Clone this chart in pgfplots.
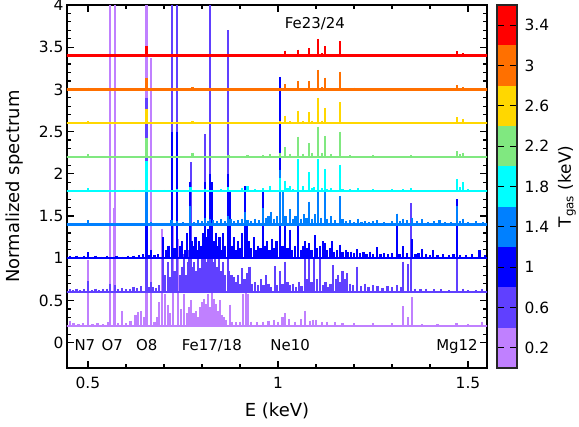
\documentclass[border=0pt]{standalone}
\usepackage{fontspec}
\setmainfont{DejaVu Sans}
\usepackage{pgfplots}
\usepackage{pgfplotstable}
\pgfplotsset{compat=1.18}
\definecolor{cA}{RGB}{192,128,255}
\definecolor{cB}{RGB}{96,64,255}
\definecolor{cC}{RGB}{0,0,255}
\definecolor{cD}{RGB}{0,128,255}
\definecolor{cE}{RGB}{0,255,255}
\definecolor{cF}{RGB}{128,232,128}
\definecolor{cG}{RGB}{255,215,0}
\definecolor{cH}{RGB}{255,112,0}
\definecolor{cI}{RGB}{255,0,0}

% T = 0.2 keV, baseline 0.2
\pgfplotstableread{
E y
0.452 0.26
0.462 0.23
0.475 0.22
0.488 0.23
0.500 0.98
0.512 0.22
0.525 0.23
0.540 0.22
0.552 0.24
0.558 4.0
0.5685 1.6
0.571 4.0
0.580 0.23
0.589 0.37
0.600 0.23
0.612 0.26
0.625 0.33
0.632 0.36
0.640 0.37
0.647 0.30
0.654 4.0
0.666 3.37
0.675 0.25
0.682 0.30
0.688 0.48
0.695 1.35
0.703 0.58
0.710 0.45
0.716 0.35
0.724 1.40
0.737 1.23
0.744 0.40
0.753 0.58
0.760 0.35
0.766 0.42
0.772 0.50
0.778 0.35
0.784 0.38
0.790 0.30
0.796 0.42
0.801 0.48
0.806 0.52
0.811 0.46
0.816 0.58
0.821 0.42
0.826 1.10
0.832 0.52
0.838 0.46
0.843 0.38
0.848 0.50
0.853 0.33
0.858 0.30
0.864 0.27
0.873 0.45
0.880 0.25
0.890 0.24
0.900 0.25
0.908 0.58
0.915 0.70
0.922 0.58
0.930 0.25
0.945 0.24
0.960 0.25
0.975 0.26
0.990 0.27
1.000 0.25
1.012 0.30
1.018 0.35
1.030 0.28
1.045 0.25
1.060 0.28
1.071 0.38
1.085 0.26
1.092 0.27
1.100 0.27
1.115 0.24
1.130 0.25
1.150 0.24
1.170 0.23
1.200 0.23
1.250 0.23
1.300 0.23
1.330 0.43
1.342 0.30
1.352 0.54
1.380 0.22
1.420 0.22
1.470 0.23
1.500 0.22
1.537 0.25
}\tA

% T = 0.6 keV, baseline 0.6
\pgfplotstableread{
E y
0.452 0.63
0.460 0.62
0.470 0.64
0.480 0.62
0.490 0.63
0.500 0.73
0.510 0.62
0.520 0.64
0.530 0.62
0.540 0.63
0.550 0.64
0.558 0.70
0.571 0.68
0.580 0.63
0.590 0.65
0.600 0.63
0.610 0.64
0.620 0.66
0.630 0.65
0.640 0.67
0.654 2.90
0.660 0.66
0.666 0.72
0.672 0.66
0.680 0.65
0.688 0.68
0.697 1.20
0.703 0.80
0.710 0.95
0.716 0.78
0.721 4.0
0.728 0.85
0.735 4.0
0.742 0.80
0.748 0.90
0.752 1.05
0.757 0.80
0.763 0.95
0.767 1.10
0.771 2.14
0.775 0.90
0.780 0.95
0.785 0.85
0.790 1.00
0.795 0.88
0.800 1.00
0.804 1.20
0.808 2.47
0.812 0.95
0.816 1.10
0.821 4.0
0.826 1.30
0.830 0.95
0.835 1.00
0.840 0.90
0.845 1.05
0.850 0.85
0.855 0.95
0.860 0.80
0.868 3.70
0.872 0.85
0.878 0.80
0.884 0.78
0.890 0.72
0.895 0.80
0.900 0.70
0.906 0.88
0.912 0.75
0.918 0.82
0.925 0.90
0.932 0.70
0.940 0.72
0.948 0.68
0.955 0.75
0.962 0.68
0.968 0.80
0.975 0.70
0.982 0.66
0.992 0.91
0.998 0.68
1.005 0.85
1.012 0.70
1.018 0.96
1.025 0.72
1.032 0.68
1.040 0.70
1.048 0.66
1.055 0.72
1.062 0.67
1.071 1.00
1.076 0.75
1.082 1.00
1.088 0.72
1.095 1.00
1.103 0.75
1.111 1.00
1.118 0.68
1.125 0.72
1.132 0.66
1.138 0.70
1.145 0.92
1.152 0.75
1.158 0.80
1.164 0.72
1.170 0.85
1.176 0.75
1.182 0.82
1.190 0.70
1.197 0.68
1.208 0.90
1.218 0.67
1.228 0.70
1.238 0.66
1.250 0.68
1.262 0.67
1.275 0.65
1.288 0.67
1.300 0.66
1.313 0.68
1.323 0.66
1.330 0.96
1.342 0.93
1.351 1.65
1.360 0.64
1.375 0.63
1.390 0.64
1.410 0.63
1.430 0.63
1.450 0.62
1.471 1.41
1.487 0.64
1.500 0.62
1.520 0.62
1.537 0.63
}\tB

% T = 1.0 keV, baseline 1.0
\pgfplotstableread{
E y
0.452 1.03
0.460 1.02
0.470 1.03
0.480 1.02
0.490 1.03
0.500 1.07
0.510 1.02
0.520 1.03
0.535 1.02
0.550 1.03
0.560 1.02
0.575 1.03
0.590 1.02
0.605 1.03
0.620 1.03
0.635 1.04
0.645 1.05
0.654 2.10
0.660 1.04
0.666 1.10
0.675 1.04
0.685 1.05
0.697 1.25
0.705 1.10
0.712 1.15
0.721 2.50
0.728 1.12
0.735 2.50
0.742 1.15
0.748 1.20
0.755 1.10
0.760 1.30
0.768 1.90
0.773 1.20
0.778 1.15
0.783 1.25
0.788 1.10
0.793 1.20
0.798 1.15
0.803 1.30
0.808 1.90
0.812 1.25
0.817 1.35
0.821 2.00
0.826 1.90
0.831 1.20
0.836 1.30
0.841 1.15
0.846 1.25
0.851 1.10
0.856 1.30
0.861 1.15
0.868 2.00
0.874 1.80
0.879 1.15
0.884 1.25
0.889 1.10
0.894 1.20
0.899 1.12
0.905 1.30
0.913 1.85
0.918 1.38
0.924 1.20
0.930 1.12
0.936 1.25
0.942 1.10
0.948 1.15
0.954 1.12
0.960 1.79
0.966 1.15
0.972 1.20
0.978 1.10
0.984 1.23
0.990 1.12
0.996 1.20
1.005 3.15
1.012 1.15
1.018 1.38
1.025 1.12
1.032 1.34
1.038 1.10
1.045 1.15
1.053 1.38
1.060 1.10
1.066 1.15
1.071 1.20
1.077 1.12
1.082 1.18
1.088 1.10
1.097 1.27
1.103 1.12
1.110 1.15
1.118 1.20
1.124 1.18
1.130 1.10
1.136 1.12
1.142 1.20
1.148 1.08
1.155 1.10
1.163 1.16
1.170 1.08
1.178 1.10
1.185 1.07
1.193 1.08
1.200 1.06
1.208 1.11
1.216 1.06
1.225 1.07
1.233 1.05
1.242 1.08
1.250 1.05
1.260 1.13
1.270 1.05
1.280 1.06
1.290 1.05
1.300 1.06
1.313 1.53
1.320 1.05
1.330 1.14
1.340 1.06
1.352 1.23
1.362 1.05
1.370 1.06
1.379 1.11
1.390 1.05
1.400 1.04
1.408 1.10
1.420 1.04
1.435 1.05
1.450 1.04
1.462 1.05
1.471 1.70
1.480 1.04
1.495 1.04
1.510 1.05
1.530 1.10
1.545 1.04
}\tC

% T = 1.4 keV, baseline 1.4
\pgfplotstableread{
E y
0.452 1.42
0.470 1.41
0.490 1.42
0.500 1.45
0.520 1.41
0.540 1.41
0.560 1.42
0.580 1.41
0.600 1.41
0.620 1.42
0.640 1.42
0.654 1.95
0.666 1.43
0.680 1.42
0.700 1.42
0.720 1.45
0.735 1.44
0.750 1.43
0.768 1.62
0.780 1.43
0.790 1.45
0.800 1.44
0.808 1.48
0.815 1.44
0.822 1.47
0.830 1.45
0.840 1.44
0.850 1.46
0.860 1.44
0.868 1.50
0.875 1.47
0.885 1.44
0.895 1.45
0.905 1.47
0.913 1.55
0.920 1.45
0.930 1.44
0.940 1.47
0.950 1.45
0.960 1.59
0.968 1.48
0.975 1.50
0.982 1.55
0.990 1.47
0.997 1.50
1.005 2.05
1.013 1.78
1.020 1.50
1.032 1.58
1.040 1.47
1.046 1.50
1.053 1.78
1.060 1.47
1.068 1.52
1.075 1.48
1.082 1.67
1.090 1.47
1.097 1.52
1.106 1.82
1.114 1.48
1.123 1.78
1.130 1.47
1.140 1.50
1.150 1.45
1.163 1.74
1.170 1.46
1.180 1.44
1.190 1.45
1.200 1.43
1.210 1.47
1.220 1.43
1.230 1.44
1.240 1.43
1.250 1.44
1.260 1.45
1.280 1.43
1.300 1.44
1.313 1.53
1.322 1.44
1.330 1.47
1.340 1.45
1.352 1.48
1.365 1.44
1.380 1.46
1.395 1.43
1.410 1.44
1.425 1.45
1.440 1.43
1.455 1.43
1.471 1.62
1.480 1.44
1.487 1.47
1.500 1.43
1.520 1.44
1.540 1.43
}\tD

% T = 1.8 keV, baseline 1.8
\pgfplotstableread{
E y
0.460 1.81
0.500 1.83
0.560 1.81
0.620 1.81
0.654 2.15
0.700 1.81
0.735 1.82
0.770 1.84
0.808 1.82
0.825 1.81
0.850 1.82
0.868 1.84
0.905 1.83
0.920 1.85
0.940 1.82
0.960 1.83
0.980 1.86
1.005 1.95
1.018 1.92
1.025 1.83
1.032 1.85
1.040 1.82
1.053 2.18
1.065 1.85
1.082 2.02
1.090 1.83
1.095 1.84
1.106 2.18
1.115 1.83
1.123 2.06
1.130 1.82
1.140 1.83
1.163 2.11
1.170 1.82
1.190 1.82
1.210 1.83
1.250 1.82
1.300 1.82
1.330 1.82
1.350 1.83
1.420 1.81
1.471 1.94
1.478 1.84
1.487 1.90
1.500 1.82
1.530 1.81
}\tE

% T = 2.2 keV, baseline 2.2
\pgfplotstableread{
E y
0.500 2.23
0.560 2.21
0.654 2.43
0.700 2.21
0.775 2.25
0.800 2.21
0.870 2.22
0.920 2.22
0.960 2.22
0.980 2.23
1.005 2.25
1.018 2.32
1.032 2.24
1.053 2.44
1.065 2.24
1.082 2.36
1.090 2.25
1.106 2.56
1.115 2.25
1.123 2.45
1.140 2.23
1.163 2.50
1.190 2.22
1.250 2.22
1.300 2.21
1.350 2.22
1.471 2.27
1.478 2.23
1.487 2.25
1.530 2.21
}\tF

% T = 2.6 keV, baseline 2.6
\pgfplotstableread{
E y
0.500 2.62
0.654 2.77
0.775 2.62
0.870 2.61
1.005 2.62
1.018 2.69
1.032 2.62
1.053 2.75
1.065 2.62
1.082 2.73
1.090 2.63
1.106 2.90
1.115 2.63
1.123 2.78
1.163 2.85
1.190 2.61
1.250 2.61
1.471 2.67
1.487 2.65
}\tG

% T = 3.0 keV, baseline 3.0
\pgfplotstableread{
E y
0.500 3.02
0.654 3.14
0.775 3.03
1.018 3.06
1.053 3.10
1.082 3.10
1.090 3.02
1.106 3.23
1.115 3.03
1.123 3.14
1.163 3.21
1.200 3.02
1.471 3.05
1.487 3.03
}\tH

% T = 3.4 keV, baseline 3.4
\pgfplotstableread{
E y
0.500 3.41
0.654 3.51
0.775 3.42
1.018 3.46
1.053 3.47
1.082 3.49
1.090 3.42
1.106 3.60
1.115 3.43
1.123 3.51
1.163 3.57
1.471 3.45
1.487 3.43
}\tI

\newcommand{\spectrum}[3]{%
  \addplot[#2, line width=2.4bp, forget plot] coordinates {(0.43,#3) (1.57,#3)};
  \addplot[draw=none, no markers, forget plot,
    error bars/.cd, y dir=minus, y explicit, error mark=none,
    error bar style={draw=#2, line width=2.2bp}]
    table[x=E, y=y, y error minus expr=\thisrow{y}-#3] {#1};
}

\begin{document}
\begin{tikzpicture}
\useasboundingbox (-67bp,-59bp) rectangle (512bp,368bp);
\begin{axis}[
  at={(0,0)}, anchor=south west, scale only axis,
  width=420bp, height=363bp,
  xmin=0.445, xmax=1.55, ymin=-0.3, ymax=4,
  xtick={0.5,1,1.5}, minor xtick={0.6,0.7,0.8,0.9,1.1,1.2,1.3,1.4},
  ytick={0,0.5,1,1.5,2,2.5,3,3.5,4}, minor y tick num=4,
  tick align=inside, tick pos=both,
  major tick length=7bp, minor tick length=4bp,
  every tick/.style={black, line width=1.2bp},
  axis line style={line width=1.8bp},
  tick label style={font=\fontsize{15.5}{18}\selectfont},
  xticklabel style={yshift=-6bp},
  /pgf/number format/assume math mode=true,
  xlabel={E (keV)}, ylabel={Normalized spectrum},
  every axis x label/.style={at={(axis description cs:0.5,-0.118)}, anchor=center, font=\fontsize{18}{21}\selectfont},
  every axis y label/.style={at={(axis description cs:-0.124,0.5)}, anchor=center, rotate=90, font=\fontsize{18}{21}\selectfont},
]
\spectrum{\tA}{cA}{0.2}
\spectrum{\tB}{cB}{0.6}
\spectrum{\tC}{cC}{1.0}
\spectrum{\tD}{cD}{1.4}
\spectrum{\tE}{cE}{1.8}
\spectrum{\tF}{cF}{2.2}
\spectrum{\tG}{cG}{2.6}
\spectrum{\tH}{cH}{3.0}
\spectrum{\tI}{cI}{3.4}
\begin{scope}[every node/.style={font=\fontsize{15}{18}\selectfont, anchor=base, inner sep=0pt}]
\node at (axis cs:0.492,-0.09) {N7};
\node at (axis cs:0.564,-0.09) {O7};
\node at (axis cs:0.655,-0.09) {O8};
\node at (axis cs:0.826,-0.09) {Fe17/18};
\node at (axis cs:1.032,-0.09) {Ne10};
\node at (axis cs:1.471,-0.09) {Mg12};
\node at (axis cs:1.097,3.72) {Fe23/24};
\end{scope}
\end{axis}
\begin{axis}[
  at={(430bp,0)}, anchor=south west, scale only axis,
  width=20bp, height=363bp,
  xmin=0, xmax=1, ymin=0, ymax=3.6,
  xtick=\empty,
  ytick={0.2,0.6,1,1.4,1.8,2.2,2.6,3,3.4},
  yticklabels={0.2,0.6,1,1.4,1.8,2.2,2.6,3,3.4},
  ytick pos=both, yticklabel pos=right,
  tick align=inside, major tick length=7bp,
  every tick/.style={black, line width=1.2bp},
  axis line style={line width=1.5bp, draw=black!85},
  axis on top,
  tick label style={font=\fontsize{15.5}{18}\selectfont},
  yticklabel style={xshift=4bp},
  ylabel={T\textsubscript{gas} (keV)},
  every axis y label/.style={at={(axis description cs:3.5,0.5)}, anchor=center, rotate=90, font=\fontsize{17}{20}\selectfont},
]
\addplot[fill=cA, draw=none] coordinates {(0,0) (1,0) (1,0.4) (0,0.4)} -- cycle;
\addplot[fill=cB, draw=none] coordinates {(0,0.4) (1,0.4) (1,0.8) (0,0.8)} -- cycle;
\addplot[fill=cC, draw=none] coordinates {(0,0.8) (1,0.8) (1,1.2) (0,1.2)} -- cycle;
\addplot[fill=cD, draw=none] coordinates {(0,1.2) (1,1.2) (1,1.6) (0,1.6)} -- cycle;
\addplot[fill=cE, draw=none] coordinates {(0,1.6) (1,1.6) (1,2.0) (0,2.0)} -- cycle;
\addplot[fill=cF, draw=none] coordinates {(0,2.0) (1,2.0) (1,2.4) (0,2.4)} -- cycle;
\addplot[fill=cG, draw=none] coordinates {(0,2.4) (1,2.4) (1,2.8) (0,2.8)} -- cycle;
\addplot[fill=cH, draw=none] coordinates {(0,2.8) (1,2.8) (1,3.2) (0,3.2)} -- cycle;
\addplot[fill=cI, draw=none] coordinates {(0,3.2) (1,3.2) (1,3.6) (0,3.6)} -- cycle;
\end{axis}
\end{tikzpicture}
\end{document}
